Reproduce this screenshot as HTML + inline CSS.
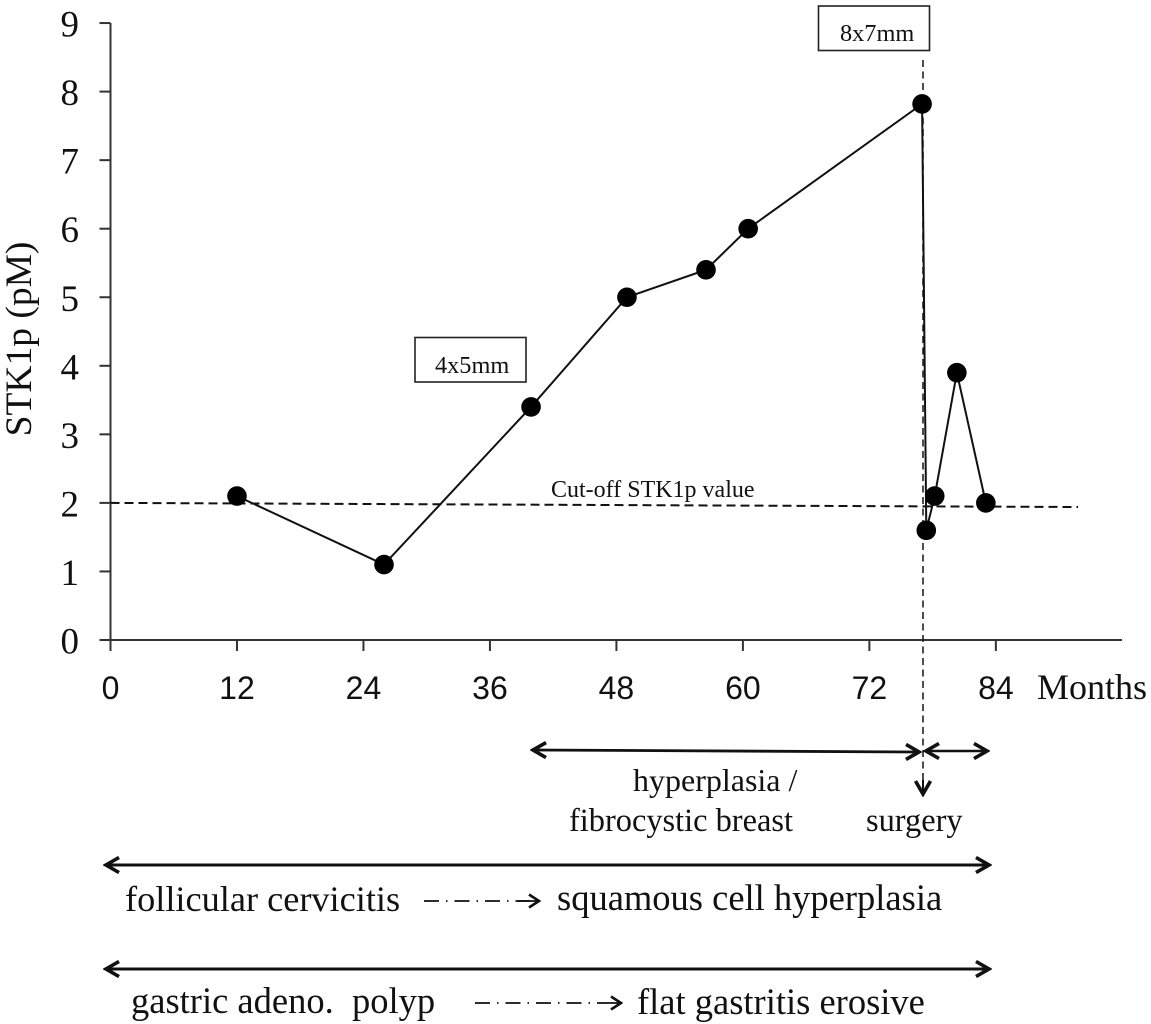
<!DOCTYPE html>
<html lang="en">
<head>
<meta charset="utf-8">
<title>STK1p over time</title>
<style>
html,body{margin:0;padding:0;background:#fff;}
svg{display:block;}
text{font-family:"Liberation Serif",serif;fill:#111;}
.sans{font-family:"Liberation Sans",sans-serif;}
</style>
</head>
<body>
<svg id="chart" xmlns="http://www.w3.org/2000/svg" width="1151" height="1024" viewBox="0 0 1151 1024">
  <defs>
    <marker id="open-arrow" viewBox="0 0 18 18" refX="16" refY="9" markerWidth="18" markerHeight="18" markerUnits="userSpaceOnUse" orient="auto-start-reverse">
      <path d="M2 1.5 L15 9 L2 16.5" fill="none" stroke="#111" stroke-width="3.6"/>
    </marker>
    <marker id="small-arrow" viewBox="0 0 14 16" refX="13" refY="8" markerWidth="14" markerHeight="16" markerUnits="userSpaceOnUse" orient="auto">
      <path d="M2 1.5 L12 8 L2 14.5" fill="none" stroke="#111" stroke-width="2.6"/>
    </marker>
  </defs>

  <g id="axes"></g>
  <g id="cutoff"></g>

  <line x1="923" y1="60" x2="923" y2="792" stroke="#222" stroke-width="1.6" stroke-dasharray="7 4.5"/>

  <g id="series"></g>

  <text transform="translate(31,339) rotate(-90)" text-anchor="middle" font-size="37.5">STK1p (pM)</text>
  <text x="1037" y="699" font-size="36">Months</text>
  <text x="551" y="497" font-size="24">Cut-off STK1p value</text>

  <rect x="415" y="337.5" width="111" height="44.5" fill="#fff" stroke="#222" stroke-width="1.6"/>
  <text x="435" y="373" font-size="24.3">4x5mm</text>
  <rect x="818.5" y="6" width="111" height="44.5" fill="#fff" stroke="#222" stroke-width="1.6"/>
  <text x="840" y="41" font-size="24.3">8x7mm</text>

  <g fill="none" stroke="#111">
    <line x1="532" y1="750" x2="920" y2="752" stroke-width="2.8" marker-start="url(#open-arrow)" marker-end="url(#open-arrow)"/>
    <line x1="925" y1="751" x2="988" y2="751" stroke-width="2.4" marker-start="url(#open-arrow)" marker-end="url(#open-arrow)"/>
    <line x1="923" y1="780" x2="923" y2="795" stroke-width="2" marker-end="url(#open-arrow)"/>
    <line x1="105" y1="865" x2="990" y2="865" stroke-width="3" marker-start="url(#open-arrow)" marker-end="url(#open-arrow)"/>
    <line x1="105" y1="969" x2="990" y2="969" stroke-width="3" marker-start="url(#open-arrow)" marker-end="url(#open-arrow)"/>
    <line x1="424" y1="901" x2="530" y2="901" stroke-width="1.8" stroke-dasharray="15 7 1.5 7"/>
    <line x1="518" y1="901" x2="540" y2="901" stroke-width="1.8" marker-end="url(#small-arrow)"/>
    <line x1="475" y1="1003" x2="600" y2="1003" stroke-width="1.8" stroke-dasharray="15 7 1.5 7"/>
    <line x1="600" y1="1003" x2="622" y2="1003" stroke-width="1.8" marker-end="url(#small-arrow)"/>
  </g>

  <text x="633" y="791" font-size="32">hyperplasia /</text>
  <text x="569" y="831" font-size="32.4">fibrocystic breast</text>
  <text x="866" y="831" font-size="32.4">surgery</text>
  <text x="125" y="911" font-size="36.3">follicular cervicitis</text>
  <text x="557" y="910" font-size="36.5">squamous cell hyperplasia</text>
  <text x="131" y="1013" font-size="36.5" xml:space="preserve">gastric adeno.  polyp</text>
  <text x="637" y="1014" font-size="36.5">flat gastritis erosive</text>
</svg>
<script>
// Chart data
const months = [12, 25.95, 39.9, 49, 56.5, 60.5, 77, 77.4, 78.2, 80.3, 83.05];
const stk1pValues = [2.1, 1.1, 3.4, 5.0, 5.4, 6.0, 7.82, 1.6, 2.1, 3.9, 2.0];
const xTickLabels = [0, 12, 24, 36, 48, 60, 72, 84];
const yTickLabels = [0, 1, 2, 3, 4, 5, 6, 7, 8, 9];
const cutoffMonths = [0, 91.8];
const cutoffValues = [2.0, 1.94];

const NS = 'http://www.w3.org/2000/svg';
const xScale = function (m) { return 110.5 + m * 10.54; };
const yScale = function (v) { return 640 - v * 68.55; };

function mk(parent, tag, attrs) {
  const el = document.createElementNS(NS, tag);
  for (const k in attrs) el.setAttribute(k, attrs[k]);
  parent.appendChild(el);
  return el;
}

const axes = document.getElementById('axes');
const xAxisLine = mk(axes, 'line', { x1: 100, y1: yScale(0), x2: 1122, y2: yScale(0), stroke: '#333', 'stroke-width': 2 });


const yAxisLine = mk(axes, 'line', { x1: xScale(0), y1: yScale(9), x2: xScale(0), y2: yScale(0) + 11, stroke: '#333', 'stroke-width': 2 });



xTickLabels.forEach(function (t) {
  const tick = mk(axes, 'line', { x1: xScale(t), y1: yScale(0), x2: xScale(t), y2: yScale(0) + 11, stroke: '#333', 'stroke-width': 2 });
  
  
  const label = mk(axes, 'text', { x: xScale(t), y: 699, 'text-anchor': 'middle', 'font-size': 32, 'class': 'sans' });
  
  
  label.textContent = t;
});

yTickLabels.forEach(function (t) {
  const tick = mk(axes, 'line', { x1: xScale(0) - 11, y1: yScale(t), x2: xScale(0), y2: yScale(t), stroke: '#333', 'stroke-width': 2 });
  
  
  const label = mk(axes, 'text', { x: 79, y: yScale(t) + 13.5, 'text-anchor': 'end', 'font-size': 37 });
  
  
  label.textContent = t;
});

const cutoffLayer = document.getElementById('cutoff');
const cutoffLine = mk(cutoffLayer, 'line', {
  x1: xScale(cutoffMonths[0]), y1: yScale(cutoffValues[0]),
  x2: xScale(cutoffMonths[1]), y2: yScale(cutoffValues[1]),
  stroke: '#111', 'stroke-width': 2, 'stroke-dasharray': '9 5'
});



const series = document.getElementById('series');
const pts = months.map(function (m, i) { return xScale(m) + ',' + yScale(stk1pValues[i]); }).join(' ');
const seriesLine = mk(series, 'polyline', { points: pts, fill: 'none', stroke: '#111', 'stroke-width': 2 });


months.forEach(function (m, i) {
  const dot = mk(series, 'circle', { cx: xScale(m), cy: yScale(stk1pValues[i]), r: 9.8, fill: '#000' });
  
  
});
</script>
</body>
</html>
